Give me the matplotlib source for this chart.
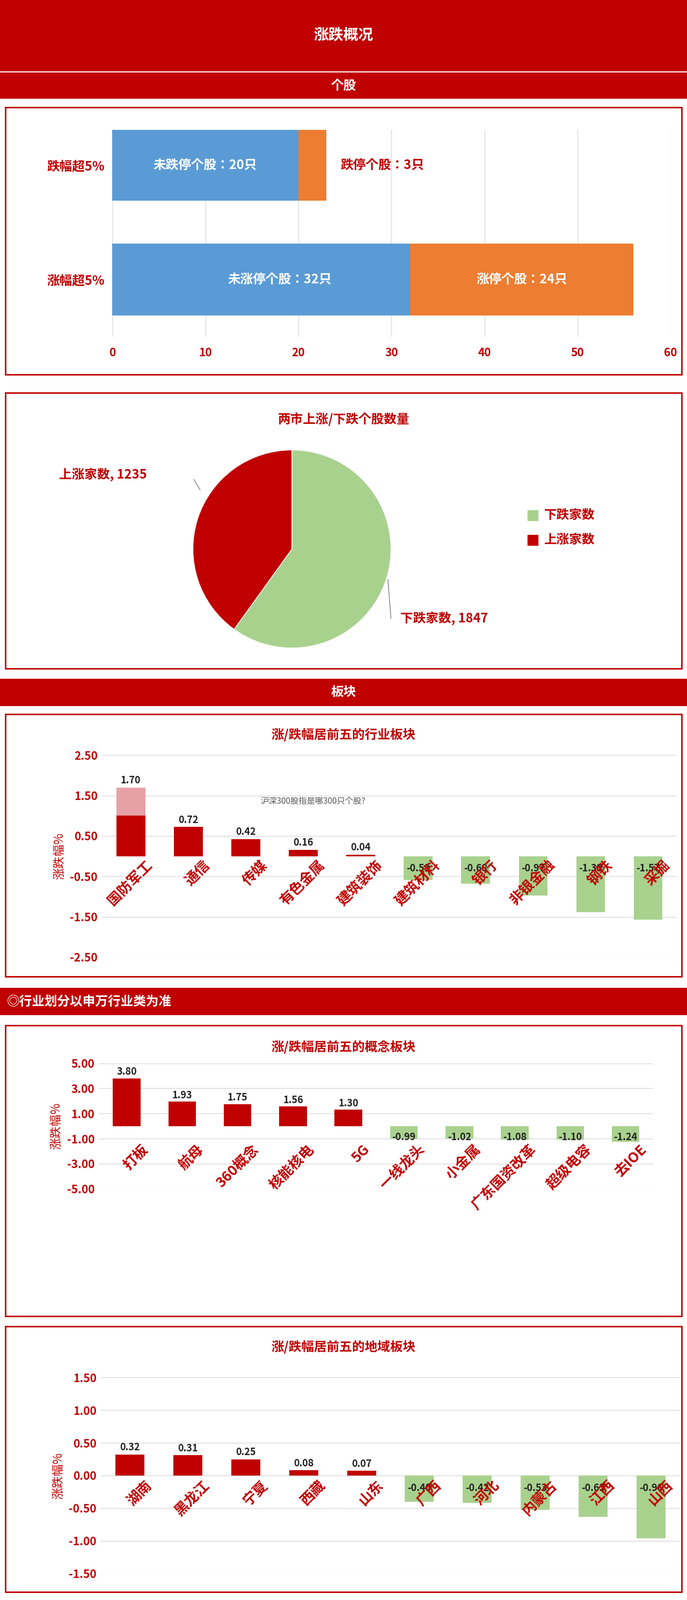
import matplotlib
matplotlib.use("Agg")
import matplotlib.pyplot as plt
from matplotlib.patches import Rectangle

plt.rcParams['font.family'] = ['Noto Sans CJK SC', 'Noto Sans CJK JP', 'DejaVu Sans']
plt.rcParams['font.weight'] = 'bold'
RED = '#C00000'; GREEN = '#A9D18E'; BLUE = '#5B9BD5'; ORANGE = '#ED7D31'

# data
stock_cats = ['涨幅超5%', '跌幅超5%']
stock_non_limit = [32, 20]
stock_limit = [24, 3]
non_limit_labels = ['未涨停个股：32只', '未跌停个股：20只']
limit_labels = ['涨停个股：24只', '跌停个股：3只']

pie_labels = ['下跌家数', '上涨家数']
pie_values = [1847, 1235]

ind_cats = ['国防军工', '通信', '传媒', '有色金属', '建筑装饰', '建筑材料', '银行', '非银金融', '钢铁', '采掘']
ind_vals = [1.70, 0.72, 0.42, 0.16, 0.04, -0.59, -0.68, -0.97, -1.39, -1.57]

con_cats = ['打板', '航母', '360概念', '核能核电', '5G', '一线龙头', '小金属', '广东国资改革', '超级电容', '去IOE']
con_vals = [3.80, 1.93, 1.75, 1.56, 1.30, -0.99, -1.02, -1.08, -1.10, -1.24]

reg_cats = ['湖南', '黑龙江', '宁夏', '西藏', '山东', '广西', '河北', '内蒙古', '江西', '山西']
reg_vals = [0.32, 0.31, 0.25, 0.08, 0.07, -0.40, -0.42, -0.53, -0.63, -0.96]

W, H = 673.0, 1568.0
fig = plt.figure(figsize=(12.8, 29.82), dpi=100)

def rect(x0, y0, x1, y1):
    return [x0 / W, 1 - y1 / H, (x1 - x0) / W, (y1 - y0) / H]

def banner(y0, y1, text, left=False):
    fig.patches.append(Rectangle((0, 1 - y1 / H), 1, (y1 - y0) / H, transform=fig.transFigure,
                                 facecolor=RED, edgecolor='none'))
    fig.text(0.01 if left else 0.5, 1 - (y0 + y1) / 2 / H, text, color='white', fontsize=17,
             ha='left' if left else 'center', va='center', fontweight='bold')

def box(y0, y1):
    fig.patches.append(Rectangle((5 / W, 1 - y1 / H), 663 / W, (y1 - y0) / H, transform=fig.transFigure,
                                 facecolor='none', edgecolor=RED, lw=2))

fig.patches.append(Rectangle((0, 1 - 70 / H), 1, 70 / H, transform=fig.transFigure, facecolor=RED))
fig.text(0.5, 1 - 35 / H, '涨跌概况', color='white', fontsize=20, ha='center', va='center')
banner(71, 97, '个股')
box(105, 367)
box(385, 655)
banner(665, 692, '板块')
box(700, 957)
banner(968, 995, '◎行业划分以申万行业类为准', left=True)
box(1005, 1290)
box(1300, 1560)

# chart 1
ax = fig.add_axes(rect(110, 127, 657, 330))
ypos = [0, 1]
ax.barh(ypos, stock_non_limit, height=0.625, color=BLUE)
ax.barh(ypos, stock_limit, left=stock_non_limit, height=0.625, color=ORANGE)
for i in range(2):
    ax.text(stock_non_limit[i] / 2 + (2 if i == 0 else 0), ypos[i], non_limit_labels[i], color='white',
            fontsize=17, ha='center', va='center')
ax.text(stock_non_limit[0] + stock_limit[0] / 2, 0, limit_labels[0], color='white', fontsize=17, ha='center', va='center')
ax.text(stock_non_limit[1] + stock_limit[1] + 1.5, 1, limit_labels[1], color=RED, fontsize=17, ha='left', va='center')
ax.set_xlim(0, 60); ax.set_ylim(-0.5, 1.31)
ax.set_xticks(range(0, 61, 10))
ax.set_yticks(ypos); ax.set_yticklabels(stock_cats, color=RED, fontsize=17)
ax.tick_params(axis='x', colors=RED, labelsize=15, length=0, pad=14)
ax.tick_params(axis='y', length=0, pad=10)
ax.grid(axis='x', color='#D9D9D9', lw=1); ax.set_axisbelow(True)
for s in ax.spines.values(): s.set_visible(False)

# chart 2 pie
fig.text(0.5, 1 - 411 / H, '两市上涨/下跌个股数量', color=RED, fontsize=17, ha='center', va='center')
axp = fig.add_axes(rect(188, 440, 384, 636))
axp.pie(pie_values, colors=[GREEN, RED], startangle=90, counterclock=False,
        wedgeprops=dict(edgecolor='white', lw=1))
axp.set_aspect('equal')
axp.set_xlim(-1.01, 1.01); axp.set_ylim(-1.01, 1.01)
fig.text(58 / W, 1 - 465 / H, f'{pie_labels[1]}, {pie_values[1]}', color=RED, fontsize=17, va='center')
fig.text(392 / W, 1 - 606 / H, f'{pie_labels[0]}, {pie_values[0]}', color=RED, fontsize=17, va='center')
fig.lines.append(plt.Line2D([190 / W, 196 / W], [1 - 470 / H, 1 - 480 / H], transform=fig.transFigure, color='gray', lw=1))
fig.lines.append(plt.Line2D([380 / W, 383 / W], [1 - 568 / H, 1 - 606 / H], transform=fig.transFigure, color='gray', lw=1))
fig.patches.append(Rectangle((517 / W, 1 - 510 / H), 10 / W, 10 / H, transform=fig.transFigure, color=GREEN))
fig.patches.append(Rectangle((517 / W, 1 - 534 / H), 10 / W, 10 / H, transform=fig.transFigure, color=RED))
fig.text(533 / W, 1 - 505 / H, pie_labels[0], color=RED, fontsize=17, va='center')
fig.text(533 / W, 1 - 529 / H, pie_labels[1], color=RED, fontsize=17, va='center')

def barchart(box_, cats, vals, ylim, ticks, title, title_y, neg_lab, cat_y, fmt='{:.2f}'):
    ax = fig.add_axes(rect(*box_))
    x = list(range(len(cats)))
    cols = [RED if v >= 0 else GREEN for v in vals]
    ax.bar(x, vals, width=0.5, color=cols)
    ax.set_xlim(-0.5, len(cats) - 0.5); ax.set_ylim(*ylim)
    ax.set_yticks(ticks); ax.set_yticklabels([fmt.format(t) for t in ticks])
    ax.tick_params(axis='y', colors=RED, labelsize=15, length=0, pad=6)
    ax.set_xticks([])
    ax.grid(axis='y', color='#D9D9D9', lw=1); ax.set_axisbelow(True)
    for s in ax.spines.values(): s.set_visible(False)
    span = ylim[1] - ylim[0]
    for i, v in enumerate(vals):
        if v >= 0:
            ax.text(i, v + span * 0.01, f'{v:.2f}', ha='center', va='bottom', fontsize=13, color='#222222')
        else:
            ax.text(i, neg_lab, f'{v:.2f}', ha='center', va='center', fontsize=13, color='#222222')
        ax.text(i + 0.25, cat_y, cats[i], rotation=45, ha='right', va='top', fontsize=19, color=RED,
                rotation_mode='anchor')
    ax.set_ylabel('涨跌幅%', color=RED, fontsize=16, labelpad=6)
    fig.text(0.5, 1 - title_y / H, title, color=RED, fontsize=17, ha='center', va='center')
    return ax

ax3 = barchart((100, 740, 663, 938), ind_cats, ind_vals, (-2.5, 2.5), [2.5, 1.5, 0.5, -0.5, -1.5, -2.5],
               '涨/跌幅居前五的行业板块', 720, -0.3, -0.05)
ax3.bar(0, ind_vals[0] - 1.0, bottom=1.0, width=0.5, color='#E6A1A6')
fig.text(255 / W, 1 - 785 / H, '沪深300股指是哪300只个股?', color='#555555', fontsize=11, fontstyle='italic',
         ha='left', va='center', fontweight='normal')

barchart((97, 1042, 640, 1165), con_cats, con_vals, (-5, 5), [5, 3, 1, -1, -3, -5],
         '涨/跌幅居前五的概念板块', 1026, -0.9, -1.3)

barchart((99, 1350, 666, 1542), reg_cats, reg_vals, (-1.5, 1.5), [1.5, 1.0, 0.5, 0.0, -0.5, -1.0, -1.5],
         '涨/跌幅居前五的地域板块', 1320, -0.19, -0.04)

fig.savefig('out.png', dpi=100, facecolor='white')
